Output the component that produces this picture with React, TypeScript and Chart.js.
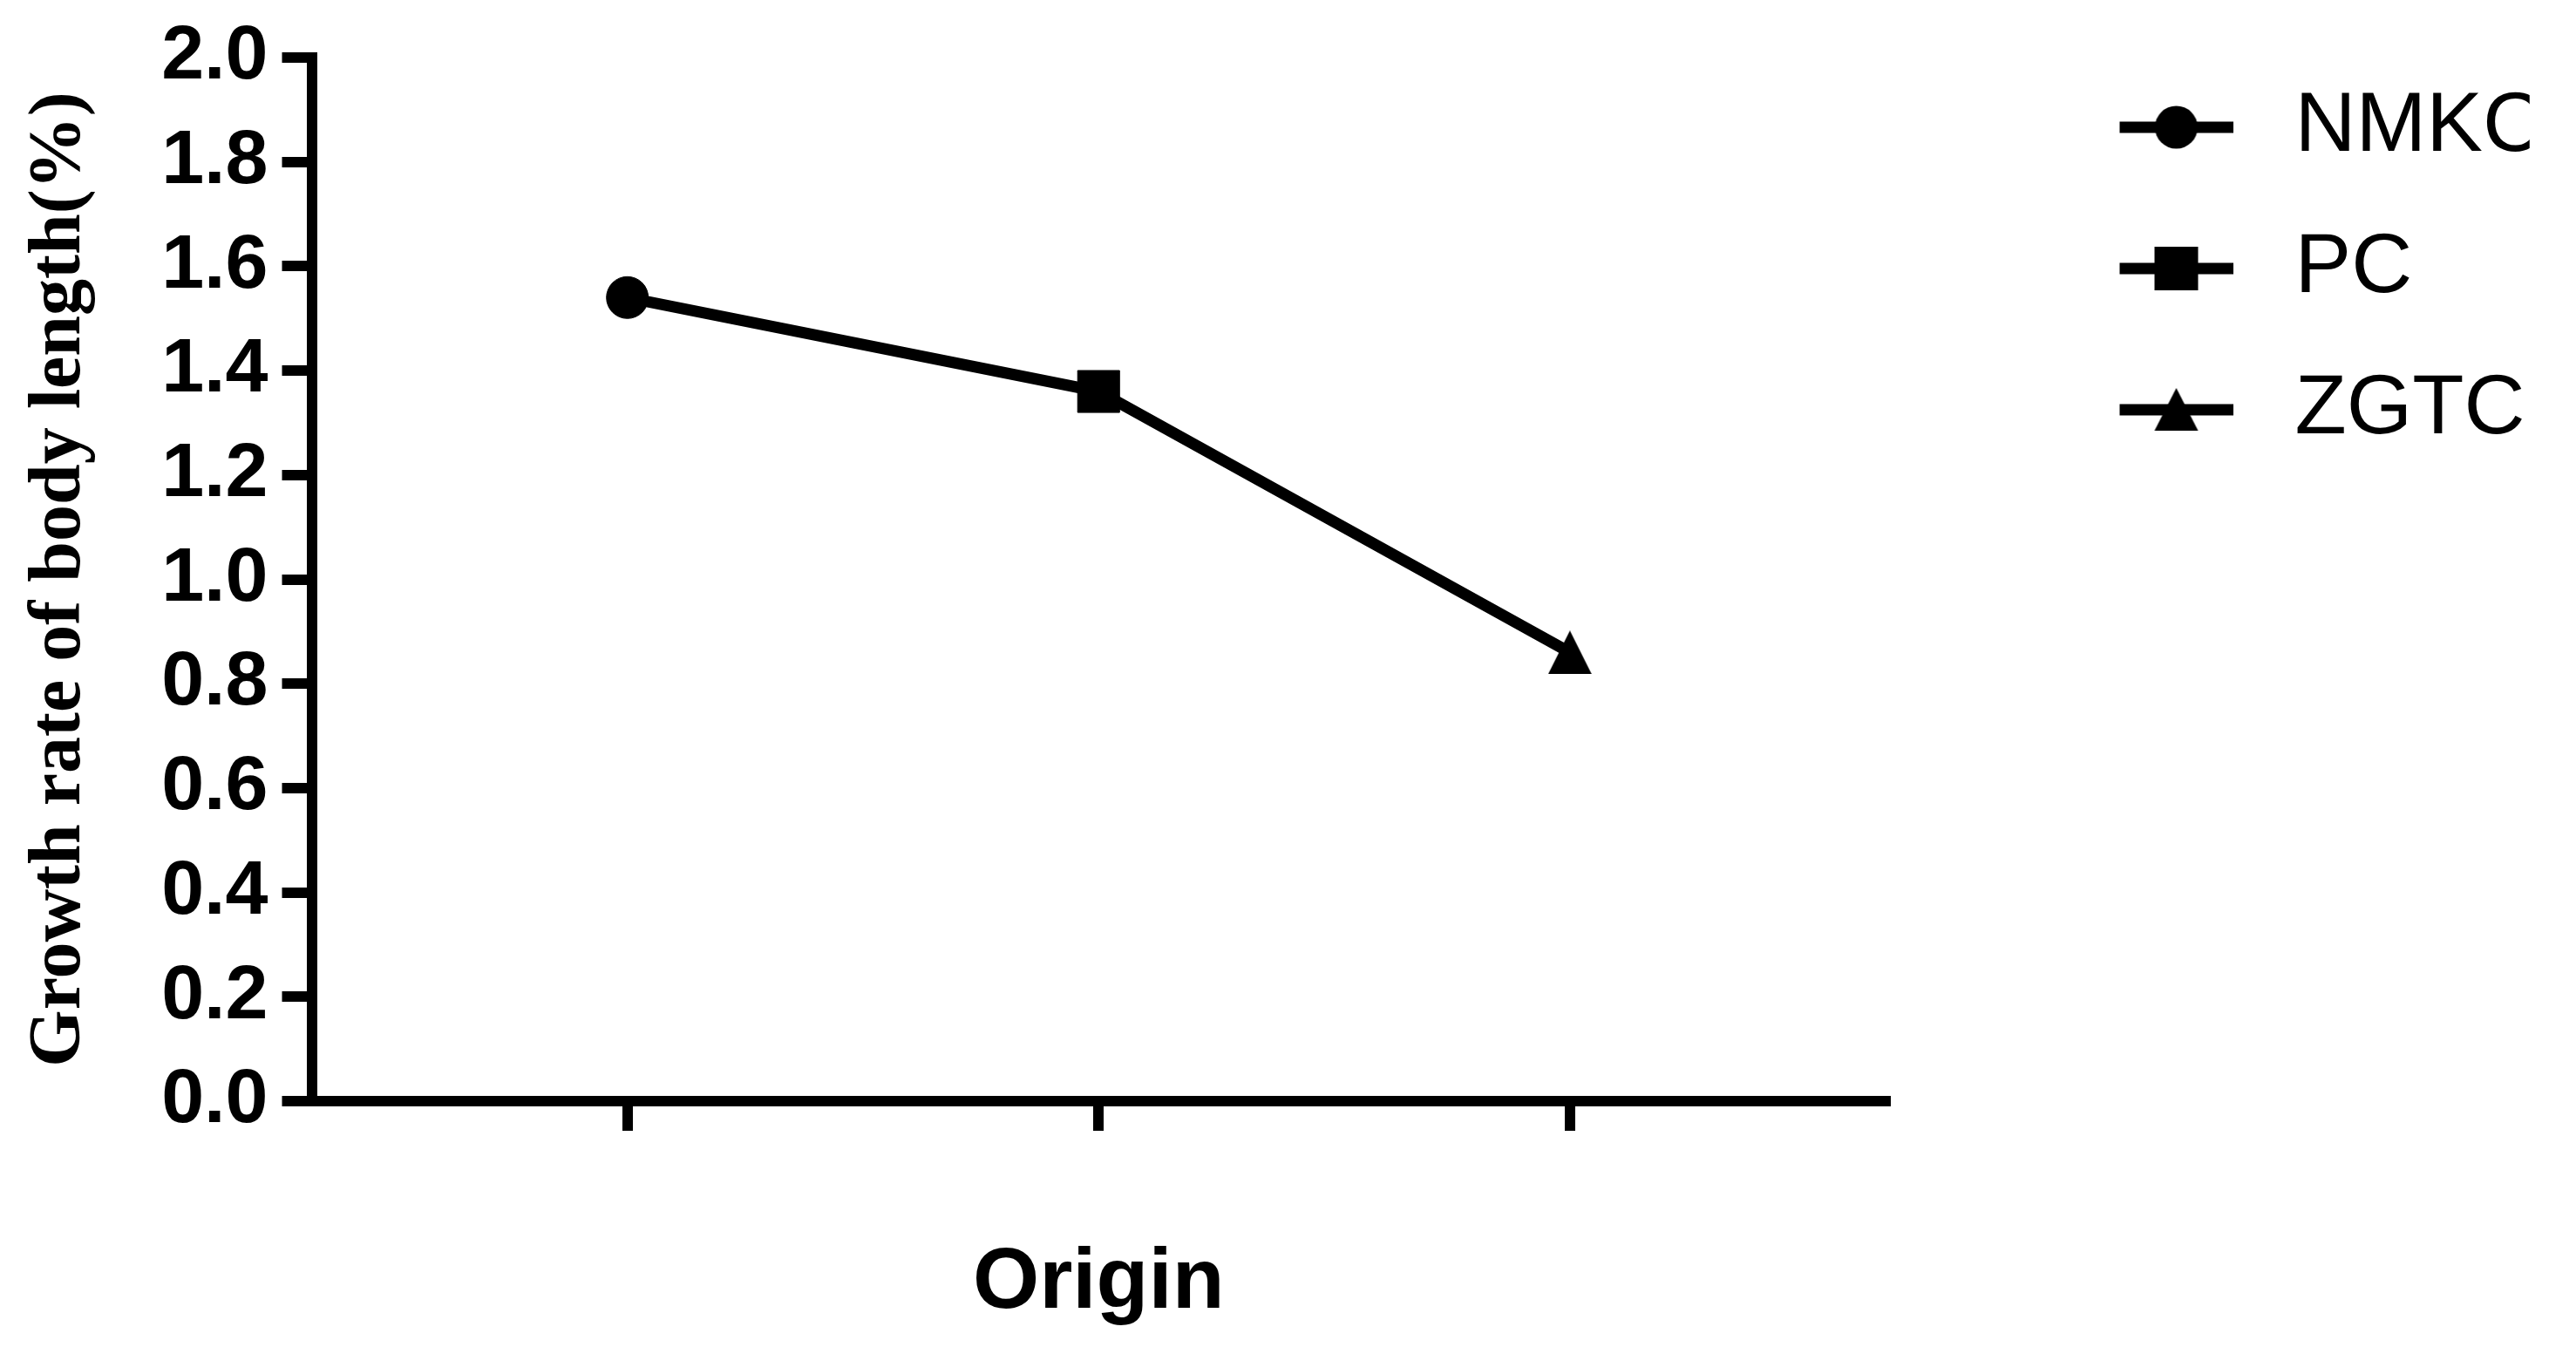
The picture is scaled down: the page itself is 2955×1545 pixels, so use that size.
import React, { useEffect, useRef } from 'react';
import { Chart, registerables } from 'chart.js';

Chart.register(...registerables);

// ---- data ----
const categories = ['NMKC', 'PC', 'ZGTC'];
const growthRate = [1.54, 1.36, 0.86];
const markerStyles = ['circle', 'rect', 'triangle'];
const yTicks = [0, 0.2, 0.4, 0.6, 0.8, 1.0, 1.2, 1.4, 1.6, 1.8, 2.0];
const yTitle = 'Growth rate of body length(%)';
const xTitle = 'Origin';

const W = 2955;
const H = 1545;
const PLOT_RIGHT = 2163;
const LEGEND_BOX = 356;

function makeTriangle(w: number, h: number) {
  const c = document.createElement('canvas');
  c.width = w;
  c.height = h;
  const ctx = c.getContext('2d')!;
  ctx.fillStyle = '#000';
  ctx.beginPath();
  ctx.moveTo(w / 2, 0);
  ctx.lineTo(w, h);
  ctx.lineTo(0, h);
  ctx.closePath();
  ctx.fill();
  return c;
}

// legend symbol: a line with the marker in its middle; transparent space on the left
function makeLegendIcon(style: string) {
  const lineLen = 130;
  const w = 311;
  const h = 54;
  const c = document.createElement('canvas');
  c.width = w;
  c.height = h;
  const ctx = c.getContext('2d')!;
  ctx.fillStyle = '#000';
  const cy = h / 2;
  const x0 = w - lineLen;
  ctx.fillRect(x0, cy - 6.5, lineLen, 13);
  const cx = x0 + lineLen / 2;
  ctx.beginPath();
  if (style === 'circle') {
    ctx.arc(cx, cy, 24.5, 0, Math.PI * 2);
  } else if (style === 'rect') {
    ctx.rect(cx - 25, cy - 25, 50, 50);
  } else {
    ctx.moveTo(cx, cy - 25);
    ctx.lineTo(cx + 25, cy + 24);
    ctx.lineTo(cx - 25, cy + 24);
    ctx.closePath();
  }
  ctx.fill();
  return c;
}

export default function App() {
  const ref = useRef<HTMLCanvasElement | null>(null);

  useEffect(() => {
    const tri = makeTriangle(50, 50);
    const pointStyles: any[] = markerStyles.map((s) => (s === 'triangle' ? tri : s));
    const icons = markerStyles.map((s) => makeLegendIcon(s));

    const chart = new Chart(ref.current as HTMLCanvasElement, {
      type: 'line',
      data: {
        datasets: [
          {
            label: xTitle,
            data: growthRate.map((v, i) => ({ x: i, y: v })),
            borderColor: '#000',
            borderWidth: 13,
            tension: 0,
            pointStyle: pointStyles as any,
            pointRadius: [24, 34, 25],
            pointBackgroundColor: '#000',
            pointBorderColor: '#000',
            pointBorderWidth: 1,
          },
        ],
      },
      options: {
        animation: false,
        responsive: false,
        events: [],
        layout: { padding: { left: 0, top: 32.5, right: 0, bottom: 0 } },
        plugins: {
          tooltip: { enabled: false },
          legend: {
            display: true,
            position: 'right',
            align: 'start',
            onClick: () => {},
            labels: {
              usePointStyle: true,
              pointStyleWidth: LEGEND_BOX,
              padding: 65,
              color: '#000',
              font: { family: '"Liberation Sans", Arial, sans-serif', size: 97, weight: 'normal' },
              generateLabels: () =>
                categories.map((c, i) => ({
                  text: c,
                  pointStyle: icons[i] as any,
                  fillStyle: '#000',
                  strokeStyle: '#000',
                  lineWidth: 0,
                  hidden: false,
                  datasetIndex: 0,
                  index: i,
                })),
            },
          },
        },
        scales: {
          x: {
            type: 'linear',
            min: -0.67,
            max: categories.length - 1 + 0.67,
            afterBuildTicks: (s: any) => {
              s.ticks = categories.map((_, i) => ({ value: i }));
            },
            afterFit: (s: any) => {
              s.height = H - 1263;
              s.paddingRight = W - PLOT_RIGHT;
            },
            grid: {
              display: true,
              drawOnChartArea: false,
              drawTicks: true,
              tickLength: 34,
              lineWidth: 12,
              color: '#000',
            },
            border: { display: true, width: 12, color: '#000' },
            ticks: { display: false },
            title: {
              display: true,
              text: xTitle,
              color: '#000',
              font: { family: '"Liberation Sans", Arial, sans-serif', size: 98, weight: 'bold' },
              padding: { top: 0, bottom: 13 },
            },
          },
          y: {
            type: 'linear',
            position: 'left',
            min: 0,
            max: 2,
            afterBuildTicks: (s: any) => {
              s.ticks = yTicks.map((v) => ({ value: v }));
            },
            afterFit: (s: any) => {
              s.width = 357.5;
              s.paddingTop = 66;
            },
            grid: {
              display: true,
              drawOnChartArea: false,
              drawTicks: true,
              tickLength: 34,
              lineWidth: 12,
              color: '#000',
            },
            border: { display: true, width: 12, color: '#000' },
            ticks: {
              color: '#000',
              padding: 16,
              font: { family: '"Liberation Sans", Arial, sans-serif', size: 88, weight: 'bold' },
              callback: (v: any) => Number(v).toFixed(1),
            },
            title: {
              display: true,
              text: yTitle,
              color: '#000',
              font: { family: '"Liberation Serif", "Times New Roman", serif', size: 84, weight: 'bold' },
              padding: { top: 19, bottom: 0 },
            },
          },
        },
      },
    } as any);

    return () => chart.destroy();
  }, []);

  return (
    <div style={{ position: 'fixed', left: 0, top: 0, width: W, height: H, background: '#fff' }}>
      <canvas ref={ref} width={W} height={H} style={{ display: 'block', width: W, height: H }} />
    </div>
  );
}
